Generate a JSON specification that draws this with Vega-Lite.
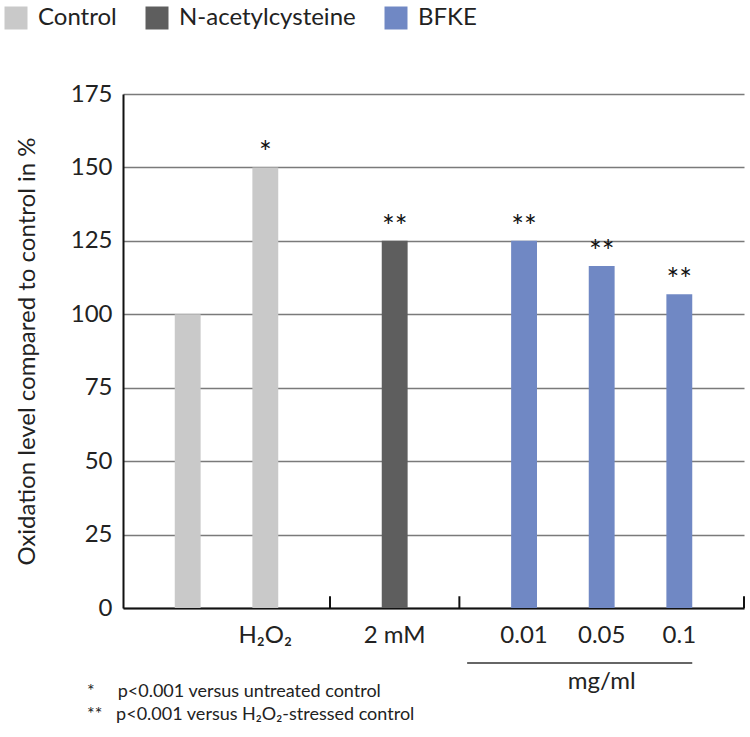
{
  "$schema": "https://vega.github.io/schema/vega-lite/v6.json",
  "width": 621,
  "height": 514,
  "autosize": {"type": "none"},
  "padding": {"left": 123, "top": 94, "right": 6, "bottom": 129},
  "background": "#ffffff",
  "config": {"font": "Lato", "view": {"stroke": null}},
  "datasets": {
    "bars": [
      {"category": "Control", "group": "Control", "value": 100, "sig": ""},
      {"category": "H2O2", "group": "Control", "value": 150, "sig": "*"},
      {"category": "NAC", "group": "N-acetylcysteine", "value": 125, "sig": "**"},
      {"category": "0.01", "group": "BFKE", "value": 125, "sig": "**"},
      {"category": "0.05", "group": "BFKE", "value": 116.4, "sig": "**"},
      {"category": "0.1", "group": "BFKE", "value": 106.8, "sig": "**"}
    ],
    "edges": [{"edge": "Control-end"}, {"edge": "NAC-end"}, {"edge": "BFKE-end"}],
    "units": [{"from": "BFKE-start", "to": "0.1", "center": "0.05", "unit": "mg/ml"}]
  },
  "title": {
    "text": ["*\u00a0\u00a0\u00a0\u00a0\u00a0p<0.001 versus untreated control", "**\u00a0\u00a0\u00a0p<0.001 versus H₂O₂-stressed control"],
    "orient": "bottom",
    "anchor": "start",
    "frame": "group",
    "offset": -11,
    "dx": -36,
    "fontSize": 18,
    "fontWeight": "normal",
    "font": "Lato",
    "color": "#222222",
    "lineHeight": 23
  },
  "layer": [
    {
      "data": {"name": "bars"},
      "mark": {"type": "bar"},
      "encoding": {
        "x": {
          "field": "category",
          "type": "nominal",
          "scale": {
            "domain": ["pad0", "pad1", "Control", "pad3", "pad4", "H2O2", "pad6", "Control-end", "pad8", "pad9", "NAC", "pad11", "NAC-end", "BFKE-start", "pad14", "0.01", "pad16", "pad17", "0.05", "pad19", "pad20", "0.1", "pad22", "BFKE-end"],
            "paddingInner": 0,
            "paddingOuter": 0
          },
          "axis": {
            "values": ["H2O2", "NAC", "0.01", "0.05", "0.1"],
            "labelExpr": "datum.value == 'H2O2' ? 'H₂O₂' : (datum.value == 'NAC' ? '2 mM' : datum.value)",
            "title": null,
            "ticks": false,
            "labelAngle": 0,
            "labelPadding": 15,
            "labelFontSize": 24,
            "labelColor": "#222222",
            "domainColor": "#111111",
            "domainWidth": 2,
            "grid": false
          }
        },
        "y": {
          "field": "value",
          "type": "quantitative",
          "scale": {"domain": [0, 175], "nice": false},
          "axis": {
            "values": [0, 25, 50, 75, 100, 125, 150, 175],
            "title": "Oxidation level compared to control in %",
            "titleFontSize": 24,
            "titleFontWeight": "normal",
            "titleColor": "#222222",
            "titlePadding": 31,
            "labelFontSize": 24,
            "labelColor": "#222222",
            "labelPadding": 11,
            "ticks": false,
            "grid": true,
            "gridColor": "#7a7a7a",
            "gridWidth": 1.5,
            "domainColor": "#111111",
            "domainWidth": 2
          }
        },
        "color": {
          "field": "group",
          "type": "nominal",
          "scale": {"domain": ["Control", "N-acetylcysteine", "BFKE"], "range": ["#c9c9c9", "#5e5e5e", "#7088c4"]},
          "legend": {
            "orient": "none",
            "legendX": -119,
            "legendY": -88,
            "direction": "horizontal",
            "title": null,
            "symbolType": "square",
            "symbolSize": 529,
            "symbolStrokeWidth": 0,
            "symbolOpacity": 1,
            "labelFontSize": 24,
            "labelLimit": 400,
            "labelColor": "#222222",
            "labelOffset": 10,
            "columnPadding": 28
          }
        }
      }
    },
    {
      "data": {"name": "bars"},
      "transform": [{"filter": "datum.sig != ''"}],
      "mark": {"type": "text", "baseline": "alphabetic", "dy": -4, "fontSize": 30, "color": "#111111"},
      "encoding": {
        "x": {"field": "category", "type": "nominal"},
        "y": {"field": "value", "type": "quantitative"},
        "text": {"field": "sig"}
      }
    },
    {
      "data": {"name": "edges"},
      "mark": {"type": "rule", "color": "#111111", "strokeWidth": 2},
      "encoding": {
        "x": {"field": "edge", "type": "nominal", "bandPosition": 1},
        "y": {"datum": 0, "type": "quantitative"},
        "y2": {"datum": 4}
      }
    },
    {
      "data": {"name": "units"},
      "mark": {"type": "rule", "color": "#333333", "strokeWidth": 1.5},
      "encoding": {
        "x": {"field": "from", "type": "nominal", "bandPosition": 0.3},
        "x2": {"field": "to", "bandPosition": 1},
        "y": {"datum": -18.7, "type": "quantitative"}
      }
    },
    {
      "data": {"name": "units"},
      "mark": {"type": "text", "baseline": "alphabetic", "fontSize": 24, "color": "#222222"},
      "encoding": {
        "x": {"field": "center", "type": "nominal"},
        "y": {"datum": -27.5, "type": "quantitative"},
        "text": {"field": "unit"}
      }
    }
  ]
}
